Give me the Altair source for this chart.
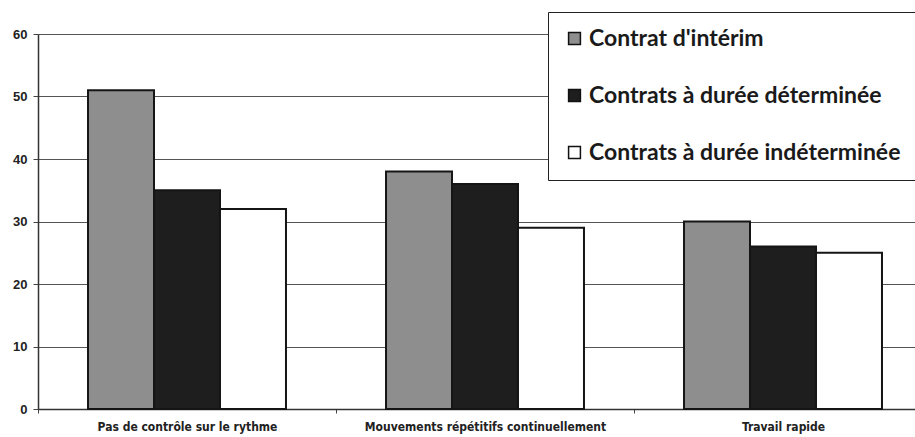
import altair as alt
import pandas as pd

categories = ["Pas  de contrôle sur le rythme",
              "Mouvements répétitifs continuellement",
              "Travail rapide"]
series = ["Contrat d'intérim",
          "Contrats à durée déterminée",
          "Contrats à durée indéterminée"]
interim = [51, 38, 30]
cdd = [35, 36, 26]
cdi = [32, 29, 25]
colors = ["#8e8e8e", "#1e1e1e", "#ffffff"]
y_ticks = [0, 10, 20, 30, 40, 50, 60]

rows = []
for s, vals in zip(series, [interim, cdd, cdi]):
    for c, v in zip(categories, vals):
        rows.append({"category": c, "series": s, "value": v})
df = pd.DataFrame(rows)

chart = alt.Chart(df).mark_bar(stroke="#151515", strokeWidth=2).encode(
    x=alt.X("category:N", sort=categories,
            scale=alt.Scale(range=[0, 894], paddingInner=0, paddingOuter=0),
            axis=alt.Axis(title=None, labelAngle=0, tickBand="extent",
                          labelFont="DejaVu Sans Condensed, Liberation Sans",
                          labelFontSize=12,
                          labelFontWeight="bold", labelColor="#222",
                          labelPadding=8, tickSize=4, tickColor="#444",
                          domainColor="#333", domainWidth=1.5, labelLimit=0)),
    xOffset=alt.XOffset("series:N", sort=series,
                        scale=alt.Scale(paddingInner=0, paddingOuter=0.758)),
    y=alt.Y("value:Q", scale=alt.Scale(domain=[0, 60]),
            axis=alt.Axis(title=None, values=y_ticks, grid=True,
                          gridColor="#555", gridWidth=1, gridOpacity=1,
                          labelFont="Liberation Sans", labelFontSize=13,
                          labelFontWeight="bold", labelColor="#222",
                          labelPadding=6, tickSize=5, tickColor="#444",
                          domainColor="#333", domainWidth=1.5)),
    color=alt.Color("series:N", sort=series,
                    scale=alt.Scale(domain=series, range=colors),
                    legend=alt.Legend(title=None, orient="none",
                                      legendX=510, legendY=-22,
                                      strokeColor="#222", fillColor="white",
                                      padding=15, labelFont="Lato",
                                      labelFontSize=23, labelFontWeight="bold",
                                      labelColor="#1a1a1a", symbolType="square",
                                      symbolSize=140, symbolStrokeColor="#111",
                                      symbolStrokeWidth=1.5, rowPadding=33,
                                      labelOffset=3, labelLimit=0)),
).properties(
    width=877, height=375,
    autosize=alt.AutoSizeParams(type="none"),
    padding={"left": 38, "top": 34, "right": 0, "bottom": 28},
).configure_view(stroke=None).configure(background="white")

chart.save("out.html", embed_options={"renderer": "svg", "actions": False})
